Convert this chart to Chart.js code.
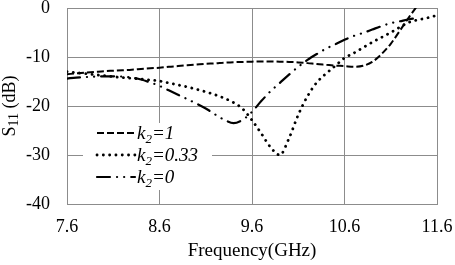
<!DOCTYPE html>
<html>
<head>
<meta charset="utf-8">
<script src="https://cdn.jsdelivr.net/npm/chart.js@4/dist/chart.umd.min.js"></script>
<style>
  html, body { margin: 0; padding: 0; background: #fff; }
</style>
</head>
<body>
<canvas id="s11_chart" width="455" height="265"></canvas>
<script>
// frequency samples (GHz)
const freqs = [7.6, 7.7, 7.8, 7.9, 8.0, 8.1, 8.2, 8.3, 8.4, 8.5,
               8.6, 8.7, 8.8, 8.9, 9.0, 9.1, 9.2, 9.3, 9.4, 9.5,
               9.6, 9.7, 9.8, 9.9, 10.0, 10.1, 10.2, 10.3, 10.4, 10.5,
               10.6, 10.7, 10.8, 10.9, 11.0, 11.1, 11.2, 11.3, 11.4, 11.5, 11.6];

// S11 (dB)
const s11K1 = [-13.5, -13.35, -13.2, -13.05, -12.9, -12.8, -12.7, -12.6, -12.45, -12.3,
               -12.2, -12.0, -11.85, -11.7, -11.55, -11.4, -11.3, -11.15, -11.05, -11.0,
               -10.95, -10.9, -10.9, -10.95, -11.0, -11.1, -11.25, -11.45, -11.6, -11.75,
               -11.85, -12.0, -11.8, -11.0, -9.4, -7.3, -4.6, -1.8, 0.8, null, null];
const s11K033 = [-13.0, -13.2, -13.4, -13.6, -13.8, -14.0, -14.2, -14.35, -14.5, -14.7,
                 -14.9, -15.3, -15.7, -16.1, -16.6, -17.1, -17.7, -18.4, -19.3, -20.6,
                 -22.9, -25.6, -28.4, -30.0, -26.6, -21.8, -18.0, -15.2, -13.4, -11.8,
                 -10.2, -9.2, -8.1, -7.0, -6.0, -5.0, -3.9, -2.9, -2.4, -2.0, -1.5];
const s11K0 = [-14.4, -14.2, -14.1, -14.0, -13.95, -13.95, -14.0, -14.2, -14.6, -15.2,
               -15.9, -16.8, -17.7, -18.6, -19.5, -20.5, -21.7, -22.8, -23.5, -22.8,
               -21.2, -19.0, -17.0, -15.3, -13.6, -12.0, -10.6, -9.4, -8.3, -7.4,
               -6.5, -5.7, -5.1, -4.4, -3.7, -3.1, -2.7, -2.3, -2.0, null, null];

const k2Values = ["1", "0.33", "0"];
const xTicks = [7.6, 8.6, 9.6, 10.6, 11.6];
const yTicks = [0, -10, -20, -30, -40];

const serif = "'Liberation Serif', 'Times New Roman', serif";
const gridColor = "#8c8c8c";

function toPoints(vals) {
    return freqs.map((f, i) => ({ x: f, y: vals[i] }));
}

// y title with subscript: S11 (dB)
const yTitlePlugin = {
    id: "yTitle",
    afterDraw(chart) {
        const ctx = chart.ctx;
        const a = chart.chartArea;
        ctx.save();
        ctx.translate(15, (a.top + a.bottom) / 2);
        ctx.rotate(-Math.PI / 2);
        ctx.fillStyle = "#000";
        ctx.textBaseline = "alphabetic";
        const big = "18px " + serif, small = "14px " + serif;
        ctx.font = big;
        const wS = ctx.measureText("S").width;
        const wRest = ctx.measureText(" (dB)").width;
        ctx.font = small;
        const wSub = ctx.measureText("11").width;
        let x = -(wS + wSub + wRest) / 2;
        ctx.font = big;
        ctx.fillText("S", x, 0);
        x += wS;
        ctx.font = small;
        ctx.fillText("11", x, 3);
        x += wSub;
        ctx.font = big;
        ctx.fillText(" (dB)", x, 0);
        ctx.restore();
    }
};

// legend drawn inside the plot, k with subscript 2
const legendPlugin = {
    id: "innerLegend",
    afterDraw(chart) {
        const ctx = chart.ctx;
        const a = chart.chartArea;
        const bx = a.left + 16, by = a.top + 115;
        ctx.save();
        ctx.fillStyle = "#fff";
        ctx.fillRect(bx, by, 129, 67);
        chart.data.datasets.forEach((ds, i) => {
            const ry = by + 10 + i * 22;
            ctx.strokeStyle = "#000";
            ctx.lineWidth = ds.borderWidth;
            ctx.lineCap = ds.borderCapStyle || "butt";
            ctx.setLineDash(ds.borderDash || []);
            ctx.beginPath();
            ctx.moveTo(bx + 14, ry);
            ctx.lineTo(bx + 52, ry);
            ctx.stroke();
            ctx.setLineDash([]);
            let x = bx + 54;
            const base = ry + 6;
            ctx.fillStyle = "#000";
            ctx.font = "italic 19px " + serif;
            ctx.fillText("k", x, base);
            x += ctx.measureText("k").width;
            ctx.font = "italic 13px " + serif;
            ctx.fillText("2", x, base + 4);
            x += ctx.measureText("2").width;
            ctx.font = "italic 19px " + serif;
            ctx.fillText("=" + k2Values[i], x, base);
        });
        ctx.restore();
    }
};

new Chart(document.getElementById("s11_chart"), {
    type: "line",
    data: {
        datasets: [{
            label: "k2=" + k2Values[0],
            data: toPoints(s11K1),
            borderColor: "#000",
            borderWidth: 2,
            borderDash: [7, 3]
        }, {
            label: "k2=" + k2Values[1],
            data: toPoints(s11K033),
            borderColor: "#000",
            borderWidth: 2.8,
            borderDash: [0.1, 6.2],
            borderCapStyle: "round"
        }, {
            label: "k2=" + k2Values[2],
            data: toPoints(s11K0),
            borderColor: "#000",
            borderWidth: 2.2,
            borderDash: [13, 7, 0.1, 7, 0.1, 7],
            borderCapStyle: "round"
        }]
    },
    options: {
        responsive: false,
        animation: false,
        layout: { padding: { top: 8, right: 18, bottom: 0, left: 0 } },
        elements: {
            point: { radius: 0 },
            line: { tension: 0, cubicInterpolationMode: "monotone", fill: false }
        },
        plugins: { legend: { display: false }, tooltip: { enabled: false } },
        scales: {
            x: {
                type: "linear",
                min: 7.6,
                max: 11.6,
                afterBuildTicks: (s) => { s.ticks = xTicks.map(v => ({ value: v })); },
                afterFit: (s) => { s.height = 61; s.paddingLeft = 0; s.paddingRight = 0; },
                grid: { color: gridColor, drawTicks: false },
                border: { color: gridColor },
                ticks: {
                    color: "#000",
                    padding: 12,
                    font: { family: serif, size: 18 },
                    callback: (v) => Number(v).toFixed(1)
                },
                title: {
                    display: true,
                    text: "Frequency(GHz)",
                    color: "#000",
                    font: { family: serif, size: 19 },
                    padding: { top: 0, bottom: 3 }
                }
            },
            y: {
                min: -40,
                max: 0,
                afterBuildTicks: (s) => { s.ticks = yTicks.map(v => ({ value: v })); },
                afterFit: (s) => { s.width = 67; s.paddingTop = 0; s.paddingBottom = 0; },
                grid: { color: gridColor, drawTicks: false },
                border: { color: gridColor },
                ticks: {
                    color: "#000",
                    padding: 17,
                    font: { family: serif, size: 18 },
                    callback: (v) => String(v)
                }
            }
        }
    },
    plugins: [yTitlePlugin, legendPlugin]
});
</script>
</body>
</html>
